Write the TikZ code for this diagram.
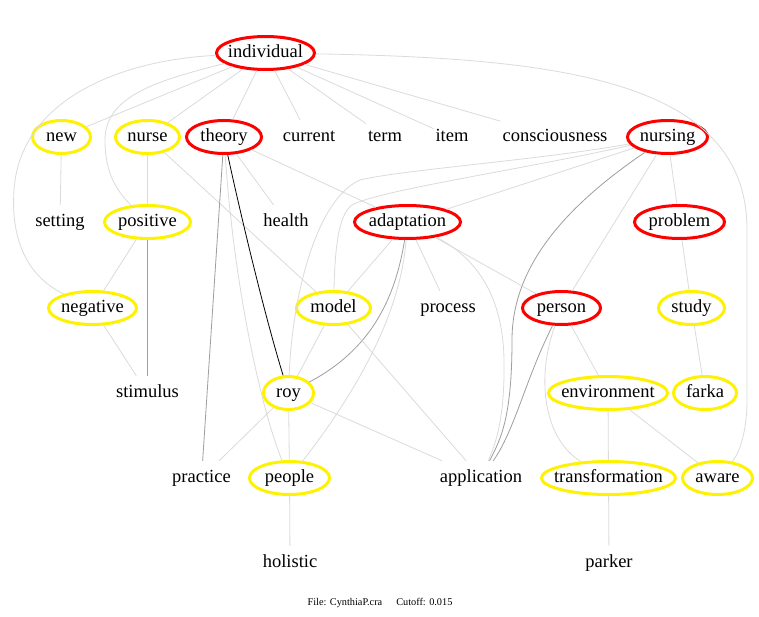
\documentclass[tikz,border=0pt]{standalone}
\usepackage{fontspec}
\setmainfont{Liberation Serif}
\usetikzlibrary{shapes.geometric}
\newcommand\zw[1]{\makebox[0pt]{#1}}
\tikzset{
 base/.style={font=\fontsize{18.5bp}{22bp}\selectfont, text=black, text height=13bp, text depth=4bp},
 ov/.style={base, ellipse, draw, line width=3bp, inner sep=0pt, minimum height=33bp, minimum width=#1},
 rnode/.style={ov=#1, draw=red},
 ynode/.style={ov=#1, draw=yellow},
 pnode/.style={base, rectangle, inner xsep=2bp, inner ysep=0pt, minimum height=34bp},
 lt/.style={draw=black!14, line width=0.8bp},
 md/.style={draw=black!38, line width=0.8bp},
 dk/.style={draw=black, line width=0.8bp},
}
\begin{document}
\begin{tikzpicture}[x=1bp,y=-1bp]
\fill[white] (0,0) rectangle (759,617);
\useasboundingbox (0,0) rectangle (759,617);
% nodes
\node[rnode=98bp] (individual) at (265.5,53) {\zw{individual}};
\node[ynode=58bp] (new) at (61.5,137) {\zw{new}};
\node[ynode=64bp] (nurse) at (147.5,137) {\zw{nurse}};
\node[rnode=75bp] (theory) at (224,137) {\zw{theory}};
\node[pnode] (current) at (309,137) {current};
\node[pnode] (term) at (385,137) {term};
\node[pnode] (item) at (452,137) {item};
\node[pnode] (consciousness) at (555,137) {consciousness};
\node[rnode=80bp] (nursing) at (667.5,137) {\zw{nursing}};
\node[pnode] (setting) at (60,222) {setting};
\node[ynode=86bp] (positive) at (147.5,222) {\zw{positive}};
\node[pnode] (health) at (286,222) {health};
\node[rnode=106bp] (adaptation) at (407.5,222) {\zw{adaptation}};
\node[rnode=90bp] (problem) at (679.5,222) {\zw{problem}};
\node[ynode=88bp] (negative) at (92.5,308) {\zw{negative}};
\node[ynode=74bp] (model) at (333.5,308) {\zw{model}};
\node[pnode] (process) at (448,308) {process};
\node[rnode=78bp] (person) at (561.5,308) {\zw{person}};
\node[ynode=66bp] (study) at (691.5,308) {\zw{study}};
\node[pnode] (stimulus) at (147.5,393) {stimulus};
\node[ynode=50bp] (roy) at (288.5,393) {\zw{roy}};
\node[ynode=119bp] (environment) at (608,393) {\zw{environment}};
\node[ynode=63bp] (farka) at (705,393) {\zw{farka}};
\node[pnode] (practice) at (201.5,478) {practice};
\node[ynode=80bp] (people) at (289.5,478) {\zw{people}};
\node[pnode] (application) at (481,478) {application};
\node[ynode=134bp] (transformation) at (608.5,478) {\zw{transformation}};
\node[ynode=70bp] (aware) at (717.5,478) {\zw{aware}};
\node[pnode] (holistic) at (290,563) {holistic};
\node[pnode] (parker) at (609,563) {parker};
\node[font=\fontsize{10.3bp}{12bp}\selectfont] (footer) at (380,603) {File: CynthiaP.cra\hspace{14bp}Cutoff: 0.015};
% edges from individual
\draw[lt] (individual) -- (new);
\draw[lt] (individual) -- (nurse);
\draw[lt] (individual) .. controls (160,80) and (105,95) .. (105,140) .. controls (105,175) and (118,192) .. (positive);
\draw[lt] (individual) .. controls (120,60) and (20,100) .. (14,190) .. controls (10,250) and (35,280) .. (negative);
\draw[lt] (individual) -- (theory);
\draw[lt] (individual) -- (current);
\draw[lt] (individual) -- (term);
\draw[lt] (individual) -- (item);
\draw[lt] (individual) -- (consciousness);
\draw[lt] (individual) .. controls (560,58) and (747,80) .. (747,230) -- (747,400) .. controls (747,435) and (738,455) .. (aware);
% left part
\draw[lt] (new) -- (setting);
\draw[lt] (nurse) -- (positive);
\draw[lt] (nurse) -- (model);
\draw[lt] (positive) -- (negative);
\draw[md] (positive) -- (stimulus);
\draw[lt] (negative) -- (stimulus);
% theory
\draw[lt] (theory) -- (health);
\draw[lt] (theory) -- (adaptation);
\draw[dk] (theory) .. controls (233,180) and (260,300) .. (roy);
\draw[md] (theory) -- (practice);
\draw[lt] (theory) .. controls (235,300) and (265,420) .. (people);
% nursing
\draw[lt] (nursing) .. controls (540,160) and (400,170) .. (360,180) .. controls (315,200) and (292,300) .. (roy);
\draw[lt] (nursing) .. controls (520,170) and (380,190) .. (352,205) .. controls (338,215) and (335,250) .. (model);
\draw[lt] (nursing) -- (adaptation);
\draw[md] (nursing) .. controls (560,210) and (512,270) .. (512,340) .. controls (512,420) and (500,440) .. (application);
\draw[lt] (nursing) -- (person);
\draw[lt] (nursing) -- (problem);
% adaptation
\draw[lt] (adaptation) -- (model);
\draw[md] (adaptation) .. controls (395,300) and (370,350) .. (roy);
\draw[lt] (adaptation) .. controls (400,320) and (350,400) .. (people);
\draw[lt] (adaptation) -- (process);
\draw[lt] (adaptation) -- (person);
\draw[lt] (adaptation) .. controls (480,260) and (503,300) .. (504,360) .. controls (505,420) and (495,445) .. (application);
% model, roy, people
\draw[lt] (model) -- (roy);
\draw[lt] (model) -- (application);
\draw[lt] (roy) -- (practice);
\draw[lt] (roy) -- (people);
\draw[lt] (roy) -- (application);
\draw[lt] (people) -- (holistic);
% person and right side
\draw[md] (person) .. controls (525,380) and (515,430) .. (application);
\draw[lt] (person) -- (environment);
\draw[lt] (person) .. controls (535,380) and (545,440) .. (transformation);
\draw[lt] (problem) -- (study);
\draw[lt] (study) -- (farka);
\draw[lt] (environment) -- (transformation);
\draw[lt] (environment) -- (aware);
\draw[lt] (transformation) -- (parker);
\end{tikzpicture}
\end{document}
